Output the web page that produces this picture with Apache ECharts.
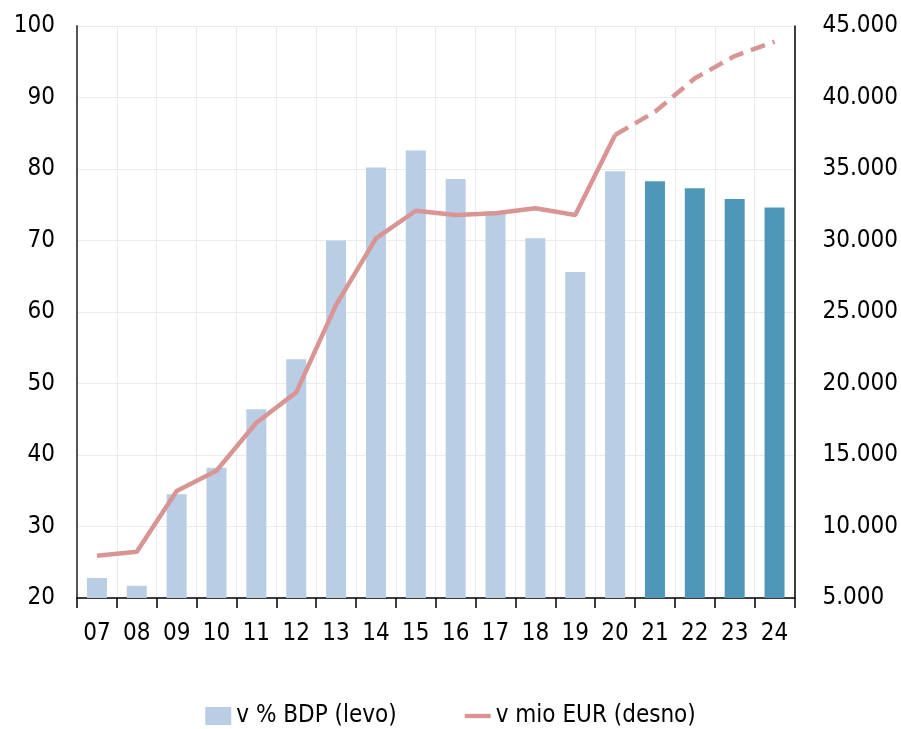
<!DOCTYPE html>
<html>
<head>
<meta charset="utf-8">
<script src="https://cdn.jsdelivr.net/npm/echarts@6/dist/echarts.min.js"></script>
<style>
html,body{margin:0;padding:0;background:#fff;}
#c{width:901px;height:729px;}
</style>
</head>
<body>
<div id="c"></div>
<script>
const categories = ['07','08','09','10','11','12','13','14','15','16','17','18','19','20','21','22','23','24'];
const gdpShare = [22.8,21.7,34.5,38.2,46.4,53.4,70.0,80.2,82.6,78.6,74.1,70.3,65.6,79.7,78.3,77.3,75.8,74.6];
const mioEur = [7950,8240,12480,13900,17260,19380,25500,30150,32080,31780,31900,32250,31780,37380,39000,41340,42900,43900];
const forecastStart = 14; // index of '21'
const leftTicks = [20,100,10];
const rightTicks = [5000,45000,5000];

const FONT = '"Liberation Sans Narrow","DejaVu Sans Condensed","Roboto Condensed",sans-serif';
const LIGHT = '#B9CDE5';
const DARK = '#4F97B8';
const LINE = '#D99594';

const barData = gdpShare.map((v,i)=> i>=forecastStart ? {value:v,itemStyle:{color:DARK}} : v);
const solidLine = mioEur.map((v,i)=> i<=forecastStart-1 ? v : null);
const dashLine = mioEur.map((v,i)=> i>=forecastStart-1 ? v : null);

const chart = echarts.init(document.getElementById('c'), null, {renderer:'canvas'});
chart.setOption({
  animation:false,
  textStyle:{fontFamily:FONT},
  grid:{left:77,right:105,top:26,bottom:131,containLabel:false},
  legend:{
    top:699,left:'center',itemGap:68,
    textStyle:{fontFamily:FONT,fontSize:24,color:'#000'},
    data:[
      {name:'v % BDP (levo)',icon:'rect',itemStyle:{color:LIGHT}},
      {name:'v mio EUR (desno)',icon:'path://M0 0H30V5H0Z',itemStyle:{color:LINE}}
    ],
    itemWidth:26,itemHeight:18
  },
  xAxis:{
    type:'category',data:categories,boundaryGap:true,
    axisLine:{lineStyle:{color:'#000',width:1.5}},
    axisTick:{show:true,length:10,lineStyle:{color:'#000',width:1.5}},
    axisLabel:{fontFamily:FONT,fontSize:24,color:'#000',margin:24,interval:0},
    splitLine:{show:true,interval:0,lineStyle:{color:'#ebebeb',width:1}}
  },
  yAxis:[
    {type:'value',min:leftTicks[0],max:leftTicks[1],interval:leftTicks[2],
     axisLine:{show:true,lineStyle:{color:'#555',width:2}},
     axisTick:{show:false},
     axisLabel:{fontFamily:FONT,fontSize:24,color:'#000',margin:22},
     splitLine:{show:true,lineStyle:{color:'#ebebeb',width:1}}},
    {type:'value',min:rightTicks[0],max:rightTicks[1],interval:rightTicks[2],position:'right',
     axisLine:{show:true,lineStyle:{color:'#000',width:1.5}},
     axisTick:{show:false},
     axisLabel:{fontFamily:FONT,fontSize:24,color:'#000',margin:28,
       formatter:v=>String(v).replace(/\B(?=(\d{3})+(?!\d))/g,'.')},
     splitLine:{show:false}}
  ],
  series:[
    {name:'v % BDP (levo)',type:'bar',yAxisIndex:0,data:barData,barWidth:20,
     itemStyle:{color:LIGHT}},
    {name:'v mio EUR (desno)',type:'line',yAxisIndex:1,data:solidLine,
     symbol:'none',lineStyle:{color:LINE,width:4.5},itemStyle:{color:LINE},z:5},
    {name:'proj',type:'line',yAxisIndex:1,data:dashLine,
     symbol:'none',lineStyle:{color:LINE,width:4.5,type:[15,8]},itemStyle:{color:LINE},z:5}
  ]
});
</script>
</body>
</html>
